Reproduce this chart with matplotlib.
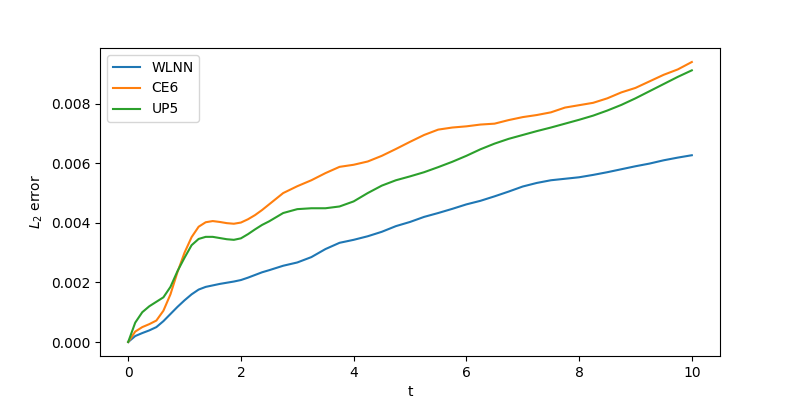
import matplotlib
matplotlib.use("Agg")
import matplotlib.pyplot as plt

# ========= data =========
# finer steps up to t=2.5 where the curves bend most
t = [0.0, 0.125, 0.25, 0.375, 0.5, 0.625, 0.75, 0.875, 1.0, 1.125, 1.25,
     1.375, 1.5, 1.625, 1.75, 1.875, 2.0, 2.125, 2.25, 2.375, 2.5,
     2.75, 3.0, 3.25, 3.5, 3.75, 4.0, 4.25, 4.5, 4.75, 5.0, 5.25, 5.5, 5.75,
     6.0, 6.25, 6.5, 6.75, 7.0, 7.25, 7.5, 7.75, 8.0, 8.25, 8.5, 8.75,
     9.0, 9.25, 9.5, 9.75, 10.0]

wlnn = [0.0, 0.00020, 0.00030, 0.00039, 0.00050, 0.00070, 0.00094, 0.00118,
        0.00140, 0.00160, 0.00176, 0.00185, 0.00190, 0.00195, 0.00199, 0.00203,
        0.00208, 0.00216, 0.00225, 0.00234, 0.00241,
        0.00256, 0.00267, 0.00285, 0.00312, 0.00333,
        0.00343, 0.00355, 0.00370, 0.00389, 0.00403, 0.00420, 0.00433, 0.00447,
        0.00462, 0.00474, 0.00489, 0.00505, 0.00522, 0.00534, 0.00543, 0.00548,
        0.00553, 0.00561, 0.00570, 0.00580, 0.00590, 0.00599, 0.00610, 0.00619,
        0.00627]

ce6 = [0.0, 0.00035, 0.00050, 0.00060, 0.00072, 0.00105, 0.00160, 0.00235,
       0.00300, 0.00352, 0.00387, 0.00402, 0.00406, 0.00403, 0.00399, 0.00397,
       0.00401, 0.00412, 0.00426, 0.00443, 0.00462,
       0.00500, 0.00523, 0.00543, 0.00567, 0.00588,
       0.00595, 0.00606, 0.00625, 0.00648, 0.00672, 0.00695, 0.00713, 0.00720,
       0.00724, 0.00730, 0.00733, 0.00745, 0.00755, 0.00762, 0.00771, 0.00787,
       0.00795, 0.00803, 0.00818, 0.00838, 0.00853, 0.00875, 0.00897, 0.00915,
       0.00940]

up5 = [0.0, 0.00065, 0.00100, 0.00120, 0.00135, 0.00150, 0.00185, 0.00238,
       0.00283, 0.00325, 0.00346, 0.00353, 0.00353, 0.00349, 0.00345, 0.00343,
       0.00348, 0.00362, 0.00378, 0.00393, 0.00405,
       0.00433, 0.00446, 0.00449, 0.00449, 0.00455,
       0.00472, 0.00500, 0.00525, 0.00543, 0.00556, 0.00570, 0.00587, 0.00605,
       0.00625, 0.00647, 0.00666, 0.00682, 0.00695, 0.00708, 0.00720, 0.00733,
       0.00746, 0.00760, 0.00777, 0.00796, 0.00818, 0.00842, 0.00866, 0.00890,
       0.00912]
# ================================================

plt.figure(figsize=(8, 4), dpi=100)
plt.plot(t, wlnn, label="WLNN")
plt.plot(t, ce6, label="CE6")
plt.plot(t, up5, label="UP5")
plt.xlabel("t")
plt.ylabel("$L_2$ error")
plt.legend(loc="upper left")
plt.savefig("out.png", dpi=100)
plt.close()
